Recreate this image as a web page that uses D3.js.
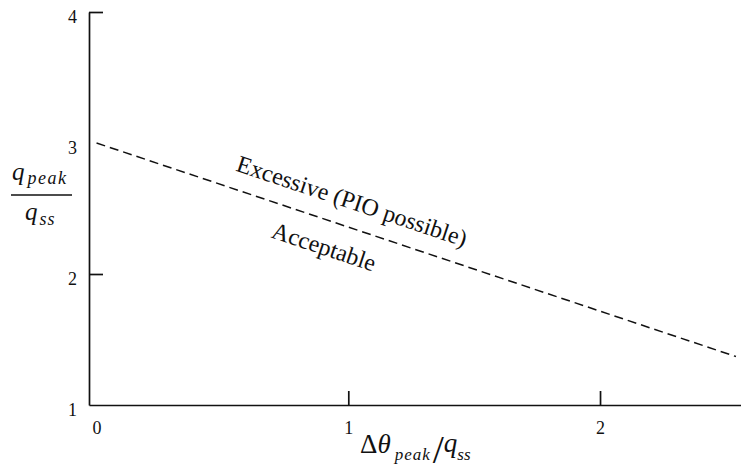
<!DOCTYPE html>
<html>
<head>
<meta charset="utf-8">
<script src="https://cdn.jsdelivr.net/npm/d3@7"></script>
</head>
<body style="margin:0;padding:0;background:#fff;">
<svg id="chart" width="741" height="473" style="display:block;background:#fff;"></svg>
<script>
// Boundary between acceptable and excessive pitch-rate overshoot
const boundaryX = [0, 2.54];
const boundaryY = [3, 1.37];

// Axis ticks
const xTicks = [0, 1, 2];
const xTickLabels = ["0", "1", "2"];
const yTicks = [1, 2, 3, 4];
const yTickLabels = ["1", "2", "3", "4"];

// Region annotations placed along the boundary
const regionLabels = ["Excessive (PIO possible)", "Acceptable"];
const regionLabelX = [0.55, 0.69];
const regionLabelY = [2.79, 2.28];

const FONT = "'Liberation Serif', 'Times New Roman', 'DejaVu Serif', serif";
const INK = "#111";

const svg = d3.select("#chart").style("font-family", FONT);

const x = d3.scaleLinear().domain([-0.03, 2.56]).range([89, 741]);
const y = d3.scaleLinear().domain([1, 4]).range([405, 12]);

function styleAxis(g) {
  g.attr("font-family", FONT).attr("font-size", 18);
  g.selectAll("path, line").style("stroke", INK).style("stroke-width", 1.7);
  g.selectAll("text").style("fill", INK).style("font-family", FONT).style("font-size", "18px");
}

// Y axis: ticks point inward
const yAxis = d3.axisLeft(y)
  .tickValues(yTicks)
  .tickFormat((d, i) => yTickLabels[i])
  .tickSizeInner(-14)
  .tickSizeOuter(0)
  .tickPadding(12);

const gy = svg.append("g")
  .attr("transform", `translate(${x.range()[0]},0)`)
  .call(yAxis)
  .call(styleAxis);
gy.selectAll(".tick").filter(d => d === 1 || d === 3).select("line").remove();
gy.selectAll(".tick text").attr("dy", "0.6em");

// X axis: ticks point inward
const xAxis = d3.axisBottom(x)
  .tickValues(xTicks)
  .tickFormat((d, i) => xTickLabels[i])
  .tickSizeInner(-14)
  .tickSizeOuter(0)
  .tickPadding(16);

const gx = svg.append("g")
  .attr("transform", `translate(0,${y.range()[0]})`)
  .call(xAxis)
  .call(styleAxis);
gx.selectAll(".tick").filter(d => d === 0).select("line").remove();

// Dashed boundary line
const pts = boundaryX.map((v, i) => [v, boundaryY[i]]);
svg.append("path")
  .datum(pts)
  .attr("fill", "none")
  .attr("stroke", INK)
  .attr("stroke-width", 1.5)
  .attr("stroke-dasharray", "9,5")
  .attr("d", d3.line().x(d => x(d[0])).y(d => y(d[1])));

// Angle of the boundary on screen, used for the annotations
const angle = Math.atan2(y(pts[1][1]) - y(pts[0][1]), x(pts[1][0]) - x(pts[0][0])) * 180 / Math.PI;

svg.selectAll("text.region")
  .data(regionLabels)
  .join("text")
  .attr("class", "region")
  .attr("transform", (d, i) => `translate(${x(regionLabelX[i])},${y(regionLabelY[i])}) rotate(${angle})`)
  .style("font-family", FONT)
  .style("font-size", "24px")
  .style("fill", INK)
  .text(d => d);

// Y axis title: q_peak / q_ss
const yt = svg.append("g").style("fill", INK).style("font-family", FONT);
const num = yt.append("text").attr("x", 12).attr("y", 180)
  .style("font-style", "italic").style("font-size", "25px");
num.append("tspan").text("q");
num.append("tspan").style("font-size", "18px").style("letter-spacing", "1.5px")
  .attr("dx", 3).attr("dy", 4).text("peak");
yt.append("line").attr("x1", 11).attr("x2", 72).attr("y1", 195).attr("y2", 195)
  .style("stroke", INK).style("stroke-width", 1.6);
const den = yt.append("text").attr("x", 25).attr("y", 220)
  .style("font-style", "italic").style("font-size", "25px");
den.append("tspan").text("q");
den.append("tspan").style("font-size", "18px").style("letter-spacing", "1px")
  .attr("dx", 2).attr("dy", 5).text("ss");

// X axis title: Δθ_peak / q_ss
const xt = svg.append("text").attr("x", 360).attr("y", 453)
  .style("font-family", FONT).style("font-size", "27px").style("fill", INK);
xt.append("tspan").text("Δ");
xt.append("tspan").style("font-style", "italic").text("θ");
xt.append("tspan").style("font-style", "italic").style("font-size", "17px").style("letter-spacing", "1px")
  .attr("dx", 4).attr("dy", 7).text("peak");
xt.append("tspan").style("font-size", "40px").style("letter-spacing", "0px")
  .attr("dx", 2).attr("dy", 3).text("/");
xt.append("tspan").style("font-style", "italic").style("font-size", "27px").attr("dx", 0).attr("dy", -11).text("q");
xt.append("tspan").style("font-style", "italic").style("font-size", "17px").attr("dx", 0).attr("dy", 8).text("ss");
</script>
</body>
</html>
